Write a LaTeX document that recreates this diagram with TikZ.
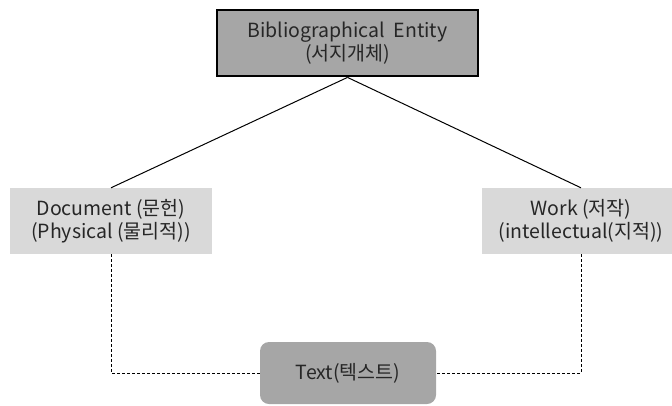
\documentclass[tikz,border=0pt]{standalone}
\usepackage{fontspec}
\setmainfont{Noto Sans CJK KR}
\definecolor{darkfill}{HTML}{A6A6A6}
\definecolor{lightfill}{HTML}{D9D9D9}
\definecolor{inktext}{HTML}{262626}
\begin{document}
\begin{tikzpicture}[x=1bp,y=-1bp,
  every node/.style={align=center, inner sep=0pt, text=inktext,
    font=\fontsize{19.5bp}{23bp}\selectfont},
  entitybox/.style={draw=black, line width=2.8bp, fill=darkfill,
    minimum width=261bp, minimum height=66bp},
  kindbox/.style={fill=lightfill, minimum height=66bp},
  textbox/.style={fill=darkfill, rounded corners=9bp,
    minimum width=176bp, minimum height=62bp},
  link/.style={line width=1bp},
  dashlink/.style={line width=1bp, dash pattern=on 3bp off 2bp}]
\useasboundingbox (0,0) rectangle (672,405);

\node[entitybox] (entity) at (347.5,43) {Bibliographical~ Entity\\(서지개체)};
\node[kindbox, minimum width=202bp] (document) at (111,221) {Document (문헌)\\(Physical (물리적))};
\node[kindbox, minimum width=198bp] (work) at (581,221) {Work (저작)\\(intellectual(지적))};
\node[textbox] (text) at (348,373) {Text(텍스트)};

\draw[link] (entity.south) -- (document.north);
\draw[link] (entity.south) -- (work.north);
\draw[dashlink] (document.south) |- (text.west);
\draw[dashlink] (work.south) |- (text.east);
\end{tikzpicture}
\end{document}
